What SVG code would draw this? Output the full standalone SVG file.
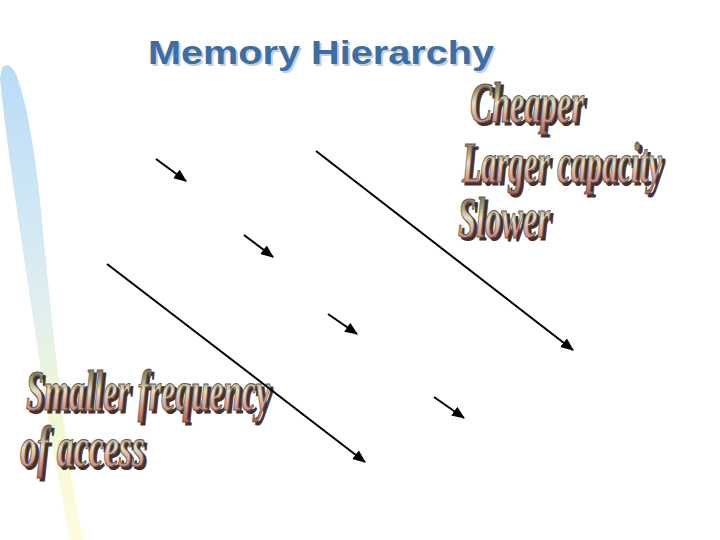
<svg xmlns="http://www.w3.org/2000/svg" width="720" height="540" viewBox="0 0 720 540">
<defs>
<linearGradient id="swoosh" x1="0" y1="0" x2="0" y2="1">
<stop offset="0" stop-color="#b8dcf8"/>
<stop offset="0.5" stop-color="#e0eef0"/>
<stop offset="0.75" stop-color="#f4f8d0"/>
<stop offset="1" stop-color="#fffbe0"/>
</linearGradient>
<linearGradient id="wa" x1="0" y1="0" x2="0" y2="1">
<stop offset="0" stop-color="#55553e"/>
<stop offset="0.3" stop-color="#9c9a80"/>
<stop offset="0.5" stop-color="#e6dfc8"/>
<stop offset="0.75" stop-color="#d49a9a"/>
<stop offset="1" stop-color="#b06060"/>
</linearGradient>
<marker id="ah" viewBox="0 0 12 10" refX="11" refY="5" markerWidth="6.5" markerHeight="5.5" orient="auto" markerUnits="strokeWidth">
<path d="M0,0 L12,5 L0,10 z" fill="#000"/>
</marker>
<style>
.title{font-family:"Liberation Sans",Arial,sans-serif;font-weight:bold;font-size:33px;fill:#3b6ea5}
.tshadow{font-family:"Liberation Sans",Arial,sans-serif;font-weight:bold;font-size:33px;fill:#c8ccd4}
.wa{font-family:"Liberation Serif","Times New Roman",serif;font-weight:bold;font-style:italic;font-size:56px;fill:url(#wa);stroke:#6a5a4a;stroke-width:1.2}
.was{font-family:"Liberation Serif","Times New Roman",serif;font-weight:bold;font-style:italic;font-size:56px;fill:#45302c;stroke:#45302c;stroke-width:1.2}
.conn line{stroke:#000;stroke-width:2;fill:none}
.conn line.a{marker-end:url(#ah)}
</style>
</defs>
<rect width="720" height="540" fill="#fff"/>
<path id="swooshshape" d="M2,68 Q8,60 16,74 Q30,110 40,200 Q52,330 66,440 Q74,500 84,540 L70,540 Q58,480 50,430 Q30,300 14,190 Q4,120 0,78 Z" fill="url(#swoosh)"/>
<g id="title">
<text class="tshadow" x="150" y="66" textLength="346" lengthAdjust="spacingAndGlyphs">Memory Hierarchy</text>
<text class="title" x="148" y="64" textLength="346" lengthAdjust="spacingAndGlyphs">Memory Hierarchy</text>
</g>
<g id="cheaper">
<text class="was" x="473" y="125" textLength="114" lengthAdjust="spacingAndGlyphs">Cheaper</text>
<text class="wa" x="470" y="122" textLength="114" lengthAdjust="spacingAndGlyphs">Cheaper</text>
</g>
<g id="larger">
<text class="was" x="465" y="185" textLength="200" lengthAdjust="spacingAndGlyphs">Larger capacity</text>
<text class="wa" x="462" y="182" textLength="200" lengthAdjust="spacingAndGlyphs">Larger capacity</text>
</g>
<g id="slower">
<text class="was" x="461" y="240" textLength="92" lengthAdjust="spacingAndGlyphs">Slower</text>
<text class="wa" x="458" y="237" textLength="92" lengthAdjust="spacingAndGlyphs">Slower</text>
</g>
<g id="smaller">
<text class="was" x="29" y="413" textLength="244" lengthAdjust="spacingAndGlyphs">Smaller frequency</text>
<text class="wa" x="26" y="410" textLength="244" lengthAdjust="spacingAndGlyphs">Smaller frequency</text>
</g>
<g id="access">
<text class="was" x="23" y="469" textLength="125" lengthAdjust="spacingAndGlyphs">of access</text>
<text class="wa" x="20" y="466" textLength="125" lengthAdjust="spacingAndGlyphs">of access</text>
</g>
<g id="connectors" class="conn">
<line class="a" x1="156" y1="159" x2="186" y2="181"/>
<line class="a" x1="244" y1="235" x2="273" y2="257"/>
<line class="a" x1="328" y1="314" x2="357" y2="334"/>
<line class="a" x1="434" y1="397" x2="464" y2="418"/>
<line class="a" x1="316" y1="151" x2="573" y2="350"/>
<line class="a" x1="107" y1="264" x2="365" y2="462"/>
</g>
</svg>
